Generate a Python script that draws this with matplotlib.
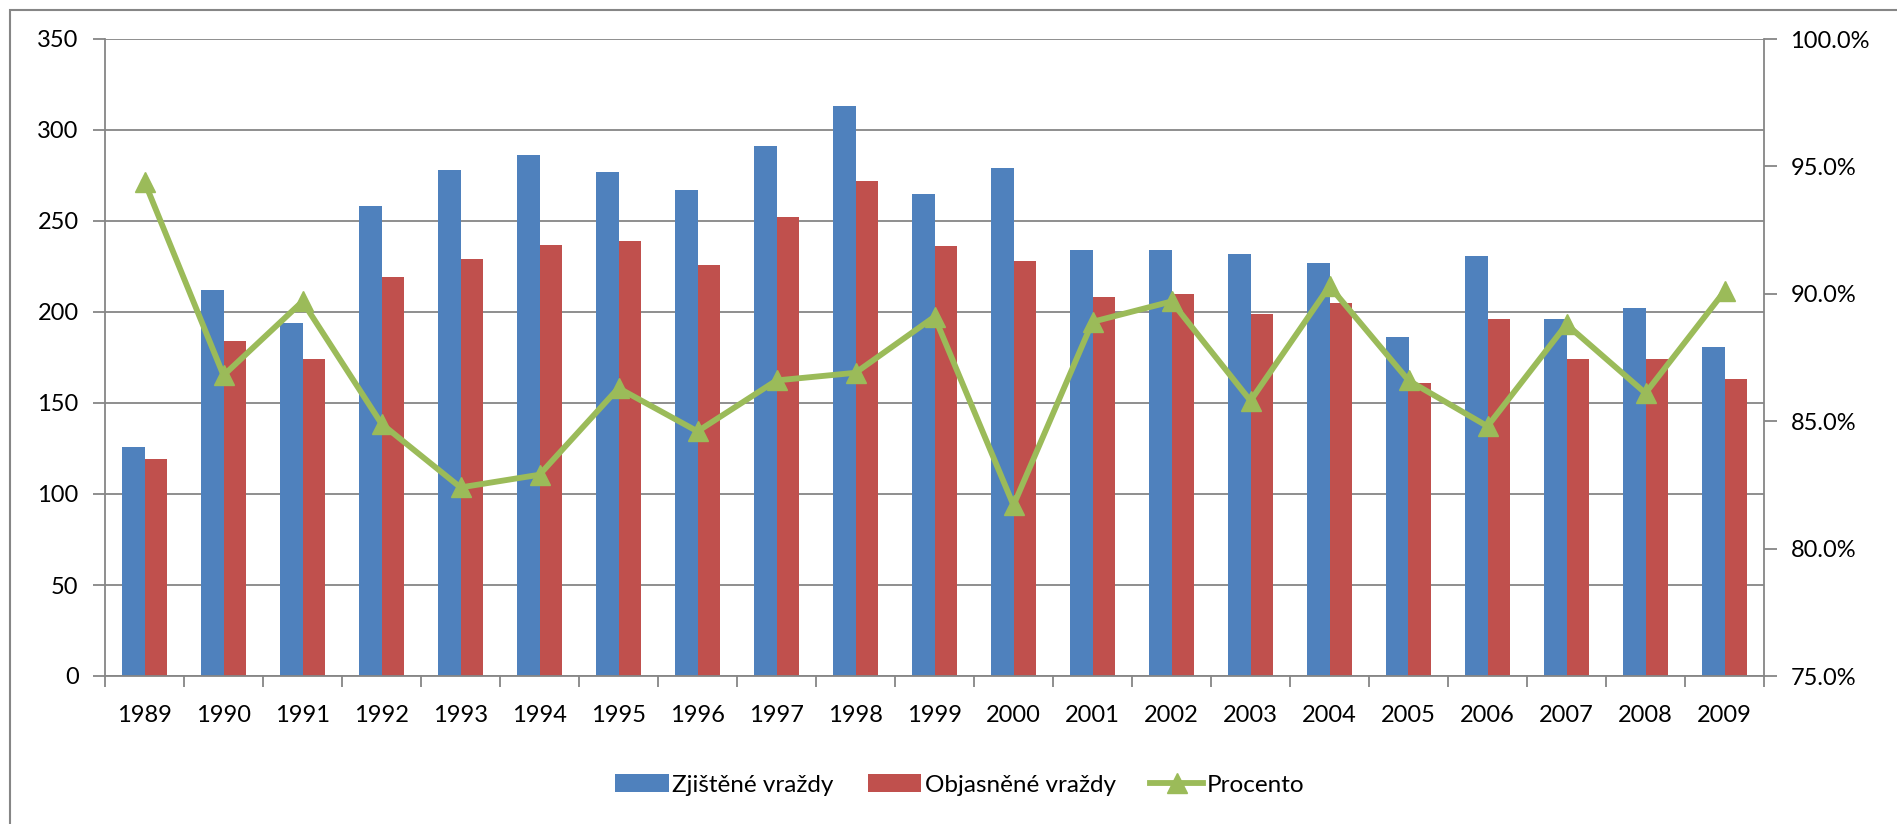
import matplotlib
matplotlib.use("Agg")
import matplotlib.pyplot as plt
import numpy as np
from matplotlib.patches import Rectangle
from matplotlib.ticker import FuncFormatter, MultipleLocator

# Data
years = ['1989', '1990', '1991', '1992', '1993', '1994', '1995', '1996', '1997', '1998',
         '1999', '2000', '2001', '2002', '2003', '2004', '2005', '2006', '2007', '2008', '2009']
zjistene = [126, 212, 194, 258, 278, 286, 277, 267, 291, 313,
            265, 279, 234, 234, 232, 227, 186, 231, 196, 202, 181]
objasnene = [119, 184, 174, 219, 229, 237, 239, 226, 252, 272,
             236, 228, 208, 210, 199, 205, 161, 196, 174, 174, 163]
procento = [94.4, 86.8, 89.7, 84.9, 82.4, 82.9, 86.3, 84.6, 86.6, 86.9,
            89.1, 81.7, 88.9, 89.7, 85.8, 90.3, 86.6, 84.8, 88.8, 86.1, 90.1]

BLUE = '#4F81BD'
RED = '#C0504D'
GREEN = '#9BBB59'
GRAY = '#868686'

plt.rcParams['font.family'] = ['Lato', 'DejaVu Sans']
plt.rcParams['font.size'] = 17

W, H = 1897, 824
fig = plt.figure(figsize=(W / 100, H / 100), dpi=100)

# outer chart frame (cut off at right/bottom)
fig.patches.append(Rectangle((10 / W, -0.1), 1.2, 1.1 - 10 / H, transform=fig.transFigure,
                             fill=False, edgecolor=GRAY, linewidth=1.5))

ax = fig.add_axes([105 / W, 1 - 676 / H, (1764 - 105) / W, (676 - 39) / H])
x = np.arange(len(years))
bw = 0.285
b1 = ax.bar(x - bw / 2, zjistene, width=bw, color=BLUE, label='Zjištěné vraždy', zorder=2)
b2 = ax.bar(x + bw / 2, objasnene, width=bw, color=RED, label='Objasněné vraždy', zorder=2)

ax.set_xlim(-0.5, len(years) - 0.5)
ax.set_ylim(0, 350)
ax.yaxis.set_major_locator(MultipleLocator(50))
ax.grid(axis='y', color=GRAY, linewidth=1.3, zorder=0)
ax.set_axisbelow(True)
ax.set_xticks(x)
ax.set_xticklabels(years)
ax.set_xticks(np.arange(-0.5, len(years), 1), minor=True)
ax.tick_params(axis='x', which='major', length=0, pad=21)
ax.tick_params(axis='x', which='minor', length=8, color=GRAY, width=1.3)
ax.tick_params(axis='y', length=9, color=GRAY, width=1.3, pad=10)
for s in ['top', 'right']:
    ax.spines[s].set_visible(False)
for s in ['left', 'bottom']:
    ax.spines[s].set_color(GRAY)
    ax.spines[s].set_linewidth(1.3)

ax2 = ax.twinx()
l1, = ax2.plot(x, procento, color=GREEN, linewidth=4.2, marker='^', markersize=14,
               label='Procento', zorder=3)
ax2.set_ylim(75, 100)
ax2.yaxis.set_major_locator(MultipleLocator(5))
ax2.yaxis.set_major_formatter(FuncFormatter(lambda v, p: f'{v:.1f}%'))
ax2.tick_params(axis='y', length=9, color=GRAY, width=1.3, pad=10)
for s in ['top', 'left', 'bottom']:
    ax2.spines[s].set_visible(False)
ax2.spines['right'].set_color(GRAY)
ax2.spines['right'].set_linewidth(1.3)

fig.legend(handles=[b1, b2, l1], loc='center', bbox_to_anchor=(0.506, 1 - 785 / H), ncol=3,
           frameon=False, handlelength=2.2, handleheight=0.7, handletextpad=0.15,
           columnspacing=1.4, fontsize=17.5)

fig.savefig('out.png', dpi=100)
